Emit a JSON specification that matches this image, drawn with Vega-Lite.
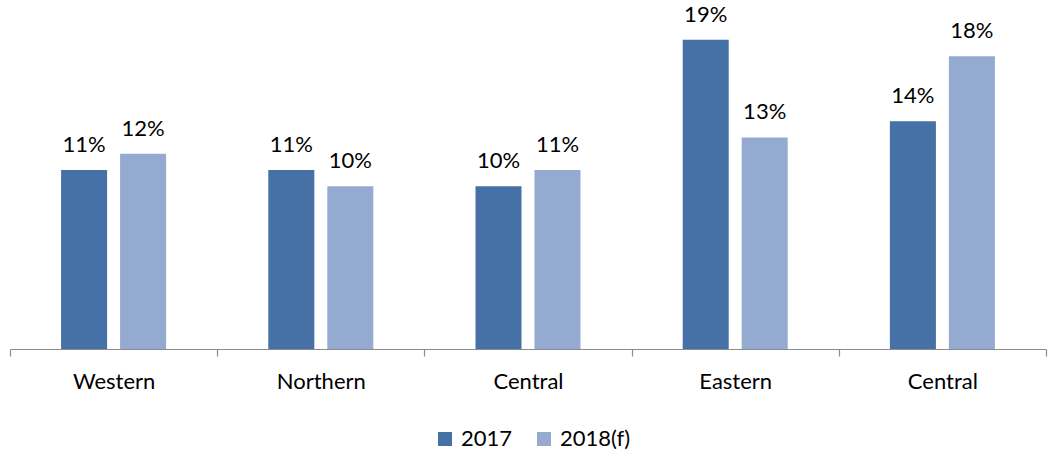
{
  "$schema": "https://vega.github.io/schema/vega-lite/v6.json",
  "autosize": {"type": "none"},
  "width": 1036,
  "height": 349,
  "padding": {"left": 10, "top": 0, "right": 2, "bottom": 108},
  "background": "white",
  "config": {"view": {"stroke": null}, "font": "Lato"},
  "data": {"values": [
    {"key": "1", "region": "Western", "year": "2017", "value": 0.11},
    {"key": "1", "region": "Western", "year": "2018(f)", "value": 0.12},
    {"key": "2", "region": "Northern", "year": "2017", "value": 0.11},
    {"key": "2", "region": "Northern", "year": "2018(f)", "value": 0.10},
    {"key": "3", "region": "Central", "year": "2017", "value": 0.10},
    {"key": "3", "region": "Central", "year": "2018(f)", "value": 0.11},
    {"key": "4", "region": "Eastern", "year": "2017", "value": 0.19},
    {"key": "4", "region": "Eastern", "year": "2018(f)", "value": 0.13},
    {"key": "5", "region": "Central", "year": "2017", "value": 0.14},
    {"key": "5", "region": "Central", "year": "2018(f)", "value": 0.18}
  ]},
  "encoding": {
    "x": {
      "field": "key", "type": "nominal", "sort": ["1", "2", "3", "4", "5"],
      "scale": {"paddingInner": 0, "paddingOuter": 0},
      "axis": {
        "title": null, "labelAngle": 0, "tickBand": "extent",
        "labelExpr": "['Western','Northern','Central','Eastern','Central'][toNumber(datum.value)-1]",
        "domainColor": "#8c8c8c", "tickColor": "#8c8c8c", "tickSize": 7, "domainWidth": 1.2, "tickWidth": 1.2,
        "labelFontSize": 22, "labelColor": "#000000", "labelFont": "Lato", "labelPadding": 15
      }
    },
    "xOffset": {"field": "year", "type": "nominal", "scale": {"paddingInner": 0.22, "paddingOuter": 0.866}},
    "y": {"field": "value", "type": "quantitative", "scale": {"domain": [0, 0.2145], "nice": false}, "axis": null}
  },
  "layer": [
    {
      "mark": {"type": "bar"},
      "encoding": {
        "color": {
          "field": "year", "type": "nominal",
          "scale": {"domain": ["2017", "2018(f)"], "range": ["#4571A6", "#95AAD1"]},
          "legend": {
            "title": null, "orient": "none", "direction": "horizontal", "columns": 2,
            "legendX": 424, "legendY": 428,
            "symbolType": "square", "symbolSize": 196, "symbolStrokeWidth": 0,
            "labelFontSize": 22, "labelColor": "#000000", "labelFont": "Lato",
            "columnPadding": 20, "labelOffset": 5
          }
        }
      }
    },
    {
      "mark": {"type": "text", "baseline": "alphabetic", "dy": -18, "fontSize": 22, "font": "Lato", "color": "#000000"},
      "encoding": {"text": {"field": "value", "type": "quantitative", "format": ".0%"}}
    }
  ]
}
